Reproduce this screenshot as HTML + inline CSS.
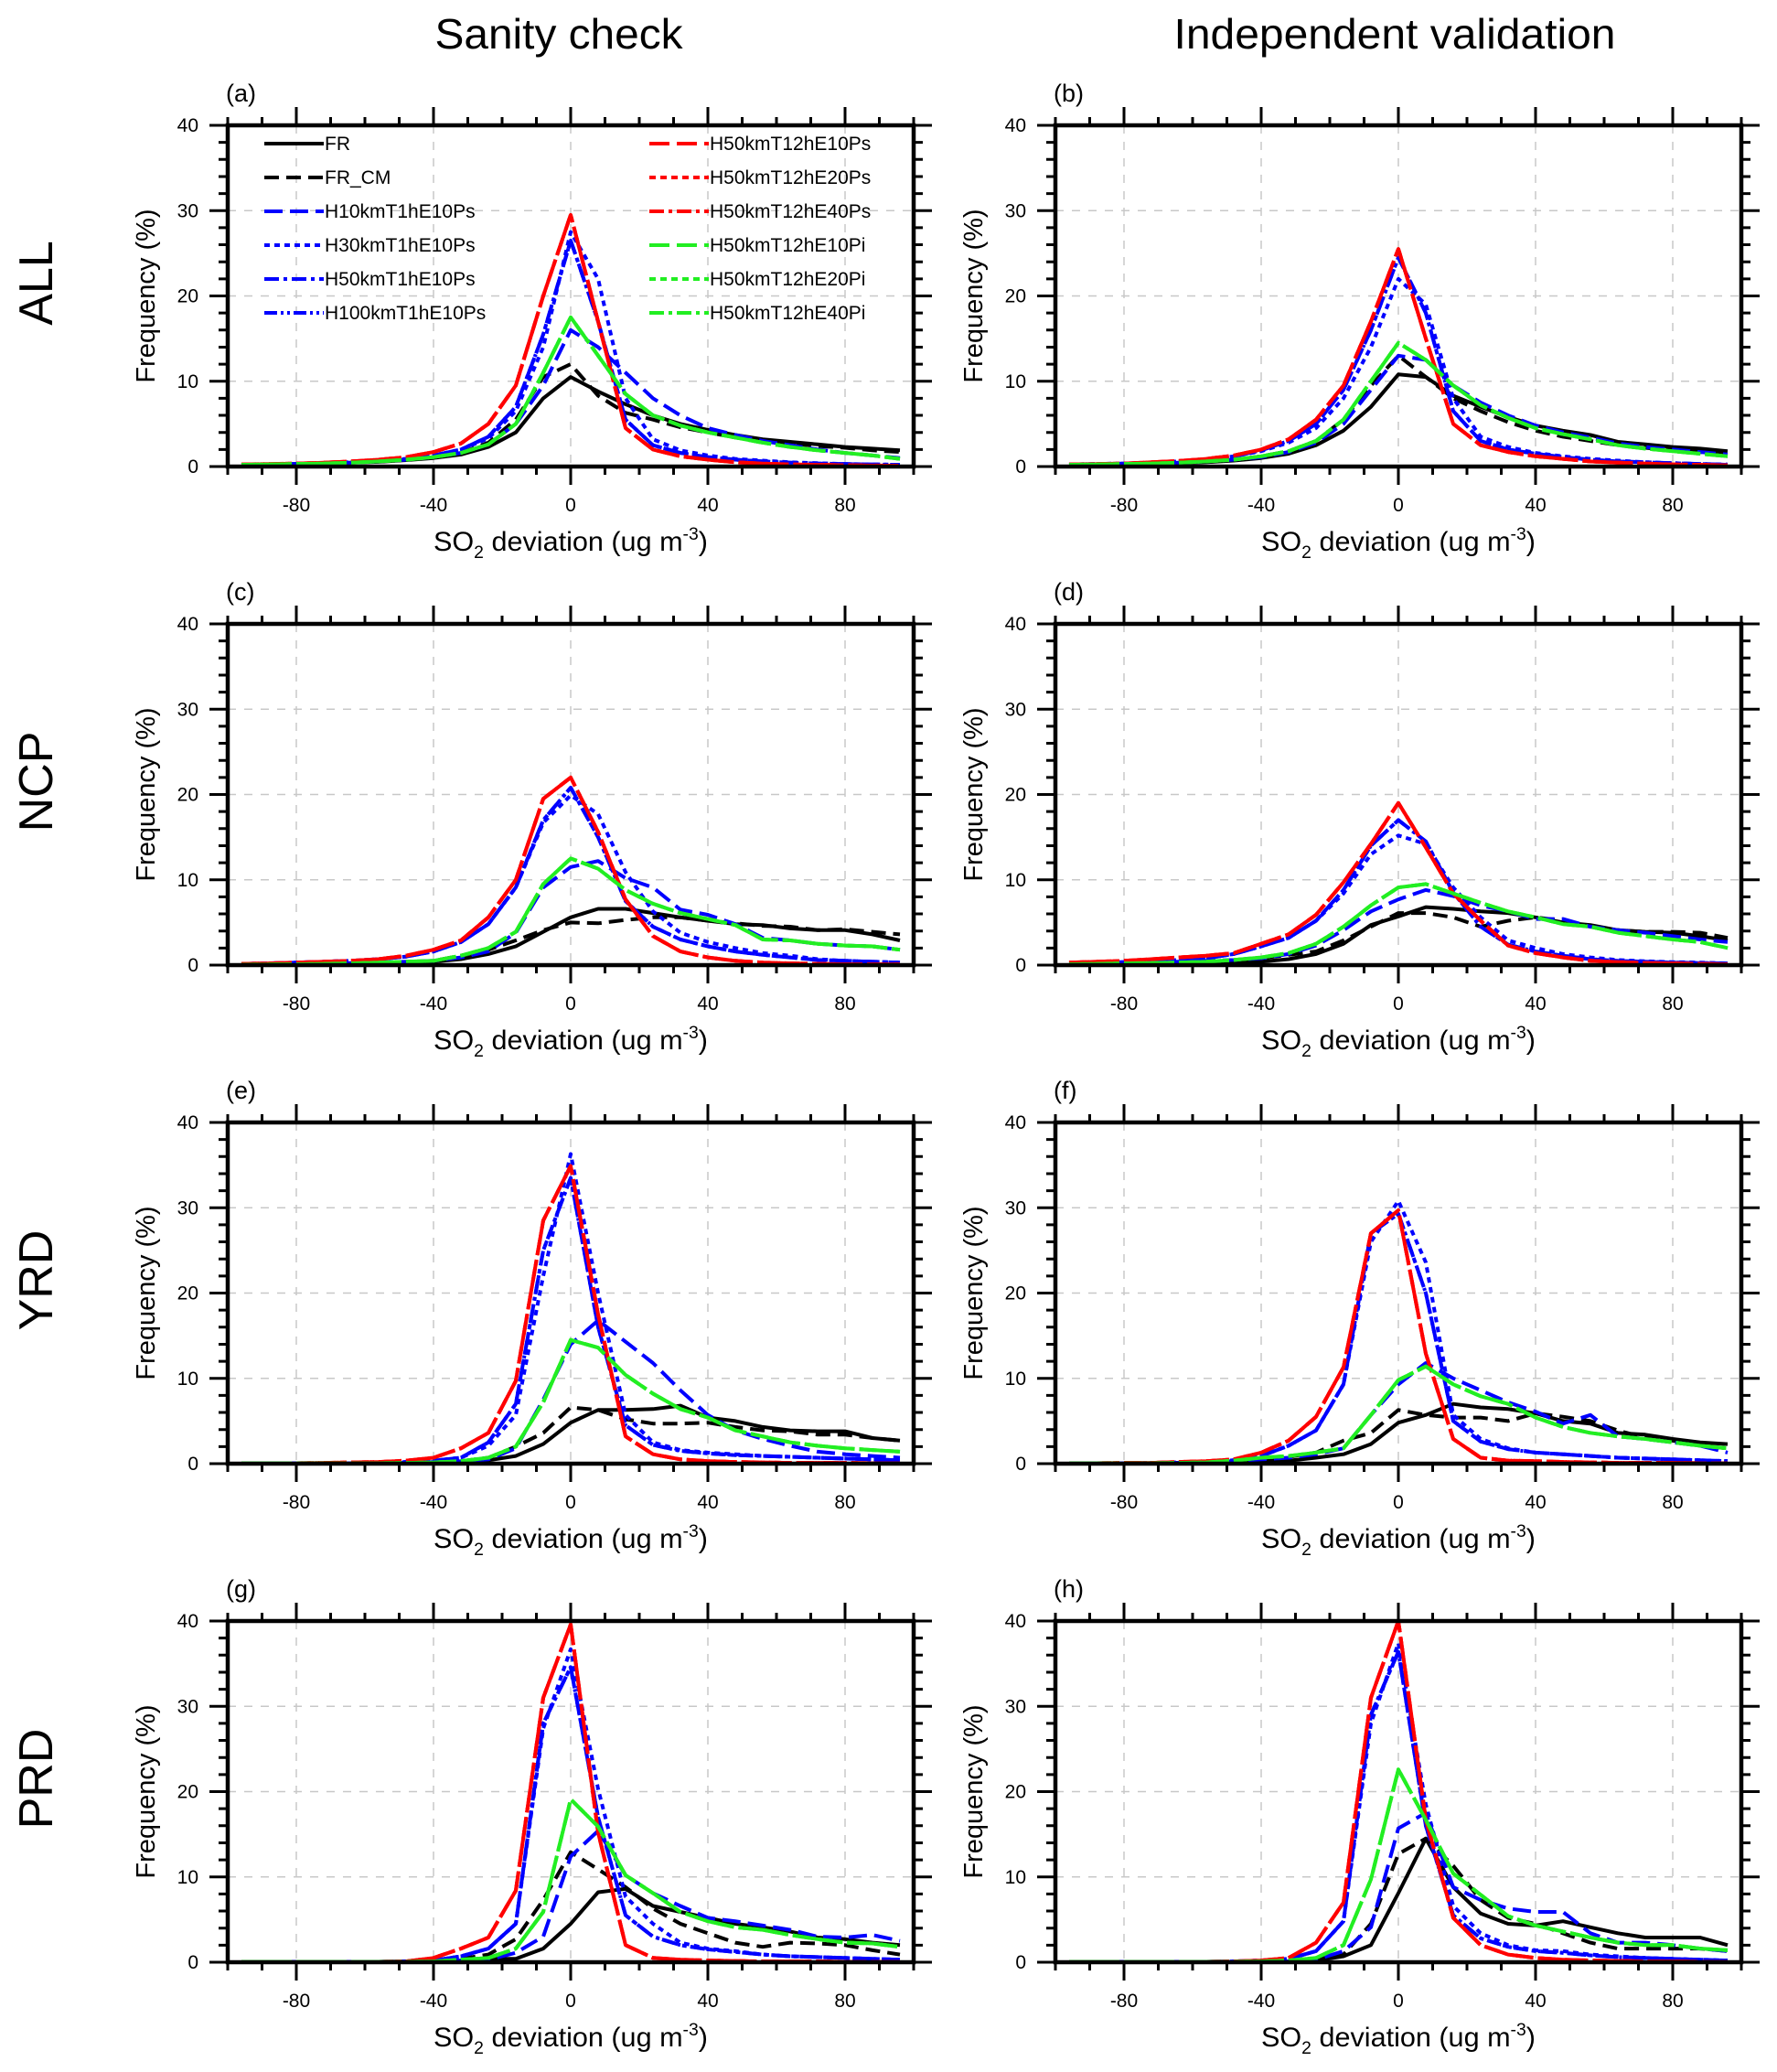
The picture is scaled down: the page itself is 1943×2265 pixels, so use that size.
<!DOCTYPE html>
<html><head><meta charset="utf-8"><style>
html,body{margin:0;padding:0;background:#fff}
svg{display:block}
text{font-family:"Liberation Sans",Arial,sans-serif;fill:#000}
</style></head><body>
<svg id="fig" width="1943" height="2265" viewBox="0 0 1943 2265" xmlns="http://www.w3.org/2000/svg">
<defs id="defs"></defs>
<text x="611" y="53" font-size="46" text-anchor="middle" textLength="271" lengthAdjust="spacingAndGlyphs">Sanity check</text>
<text x="1525" y="53" font-size="46" text-anchor="middle" textLength="483" lengthAdjust="spacingAndGlyphs">Independent validation</text>
</svg>
<script>
const xBins = [-96,-88,-80,-72,-64,-56,-48,-40,-32,-24,-16,-8,0,8,16,24,32,40,48,56,64,72,80,88,96];
const panelLabels = ["(a)","(b)","(c)","(d)","(e)","(f)","(g)","(h)"];
const rowLabels = ["ALL","NCP","YRD","PRD"];
const xTickLabels = [-80,-40,0,40,80];
const yTickLabels = [0,10,20,30,40];
const dataFR = [
[0.2,0.25,0.3,0.35,0.45,0.55,0.75,1.0,1.4,2.3,4.0,8.0,10.5,8.8,7.3,6.0,5.0,4.3,3.7,3.2,2.9,2.6,2.3,2.1,1.9],
[0.15,0.2,0.25,0.3,0.4,0.5,0.7,1.0,1.5,2.5,4.2,7,10.8,10.5,8.3,7,5.8,4.8,4.2,3.7,2.9,2.6,2.3,2.1,1.8],
[0.05,0.05,0.08,0.1,0.12,0.15,0.2,0.4,0.7,1.3,2.2,3.9,5.6,6.6,6.6,6.1,5.6,5.2,4.8,4.7,4.3,4.1,4.1,3.6,2.9],
[0.05,0.08,0.1,0.12,0.15,0.2,0.3,0.4,0.7,1.3,2.5,4.7,5.7,6.8,6.6,6.3,6.1,5.6,5.0,4.7,4.1,3.9,3.8,3.4,2.9],
[0.05,0.05,0.05,0.05,0.05,0.05,0.05,0.1,0.1,0.4,0.9,2.3,4.8,6.3,6.3,6.4,6.8,5.4,5.0,4.3,3.9,3.8,3.8,3.0,2.7],
[0.05,0.05,0.05,0.05,0.1,0.15,0.2,0.3,0.35,0.7,1.1,2.3,4.8,5.7,7.0,6.6,6.4,5.9,5.0,4.7,3.6,3.4,2.9,2.5,2.3],
[0.05,0.05,0.05,0.05,0.05,0.05,0.05,0.1,0.2,0.4,0.4,1.6,4.5,8.2,8.6,6.6,5.9,5.2,4.5,4.1,3.6,2.9,2.7,2.3,2.0],
[0.05,0.05,0.05,0.05,0.05,0.05,0.05,0.1,0.1,0.2,0.7,2.0,8.1,14.5,8.8,5.7,4.5,4.3,4.8,4.1,3.4,2.9,2.9,2.9,2.0]];
const dataFRCM = [
[0.2,0.25,0.3,0.4,0.5,0.6,0.8,1.1,1.6,2.8,5.5,10.5,12.0,8.3,6.3,5.5,4.6,4.0,3.4,3.0,2.7,2.4,2.2,1.9,1.7],
[0.15,0.2,0.25,0.3,0.4,0.55,0.8,1.2,1.8,3,5.5,9.5,13,10.5,8,6.5,5.2,4.2,3.5,3.0,2.5,2.2,1.9,1.7,1.5],
[0.05,0.05,0.08,0.1,0.15,0.2,0.3,0.5,1.1,1.8,2.9,4.1,5.0,4.9,5.3,5.6,5.6,5.2,4.9,4.6,4.5,4.1,4.2,3.9,3.6],
[0.05,0.08,0.1,0.15,0.2,0.3,0.5,0.8,1.2,1.6,2.9,4.5,6.1,6.1,5.6,4.5,5.2,5.6,5.2,4.5,4.1,3.9,3.9,3.8,3.2],
[0.05,0.05,0.05,0.05,0.05,0.05,0.1,0.1,0.3,0.7,2.0,3.6,6.6,6.3,5.2,4.7,4.7,4.8,4.3,3.9,3.8,3.4,3.4,3.0,2.7],
[0.05,0.05,0.05,0.05,0.1,0.15,0.3,0.5,0.8,1.3,2.7,3.6,6.3,5.7,5.4,5.4,5.0,5.9,5.5,5.0,3.9,3.0,2.7,2.1,1.8],
[0.05,0.05,0.05,0.05,0.05,0.05,0.1,0.2,0.4,0.9,2.7,7.3,12.9,10.9,8.8,6.3,4.5,3.4,2.3,1.8,2.3,2.2,2.0,1.4,0.9],
[0.05,0.05,0.05,0.05,0.05,0.05,0.05,0.1,0.1,0.3,0.9,4.5,12.7,14.5,11.3,7.3,5.2,4.5,3.4,2.3,1.6,1.6,1.6,1.6,1.3]];
const dataH10 = [
[0.2,0.25,0.3,0.35,0.45,0.6,0.8,1.1,1.6,2.6,5.0,9.5,16.0,14.0,11.0,8.0,6.0,4.5,3.7,3.0,2.5,2.0,1.6,1.3,1.0],
[0.2,0.25,0.3,0.35,0.45,0.6,0.8,1.1,1.7,2.8,5,9,13,12.5,9.5,7.5,6,4.8,4,3.4,2.7,2.3,2,1.7,1.4],
[0.1,0.12,0.15,0.2,0.25,0.3,0.4,0.5,0.9,1.6,3.8,9.1,11.5,12.2,10.2,9.1,6.5,5.9,4.8,3.2,2.9,2.5,2.3,2.2,1.8],
[0.2,0.25,0.3,0.35,0.4,0.5,0.6,0.8,1.3,2.3,4.1,6.3,7.7,8.8,8.1,7.0,6.3,5.4,5.4,4.5,4.1,3.8,3.4,3.0,2.7],
[0.05,0.05,0.05,0.05,0.05,0.05,0.1,0.2,0.3,0.5,1.8,7.5,14,16.8,14.3,11.8,8.6,5.7,3.9,2.9,2.1,1.4,1.1,0.9,0.7],
[0.05,0.05,0.05,0.05,0.1,0.2,0.3,0.5,0.7,1.1,1.8,5.7,9.3,11.8,10,8.6,7.2,6.1,4.7,5.7,3.2,2.9,2.5,2.1,1.3],
[0.05,0.05,0.05,0.05,0.05,0.05,0.05,0.1,0.2,0.3,1.1,3.0,12.4,15.4,10.2,8.1,6.6,5.2,4.8,4.3,3.8,3.0,2.9,3.2,2.5],
[0.05,0.05,0.05,0.05,0.05,0.05,0.05,0.1,0.1,0.3,1.3,4.1,15.7,17.5,8.8,7.3,6.3,5.9,5.9,3.4,2.3,2.3,2.0,1.6,1.3]];
const dataH30 = [
[0.2,0.25,0.3,0.4,0.5,0.7,0.9,1.3,2.0,3.3,6.5,14,27.5,22,8,3.2,1.9,1.3,0.9,0.7,0.5,0.4,0.3,0.25,0.2],
[0.25,0.3,0.35,0.45,0.6,0.8,1.2,1.8,2.8,4.5,8,14,22,19,8,3.5,2.3,1.6,1.2,0.9,0.7,0.5,0.4,0.3,0.25],
[0.15,0.2,0.3,0.4,0.5,0.7,1.0,1.6,2.7,4.8,9.1,16.7,19.9,17.7,10.9,6.3,3.8,2.7,2.0,1.4,1.1,0.7,0.5,0.4,0.3],
[0.25,0.3,0.35,0.45,0.6,0.8,1.3,2.2,3.2,5.2,8.4,13,15.2,14.2,9.1,5.6,2.9,2.0,1.3,0.9,0.6,0.45,0.35,0.3,0.2],
[0.05,0.05,0.05,0.05,0.05,0.1,0.2,0.35,0.7,2.1,5.7,22,36.3,20,5.7,2.5,1.6,1.3,1.1,0.9,0.8,0.7,0.6,0.5,0.4],
[0.05,0.05,0.05,0.1,0.15,0.2,0.4,0.9,2.1,3.9,9.3,26,30.8,23.6,5.7,2.9,1.8,1.3,1.1,0.9,0.7,0.6,0.5,0.4,0.3],
[0.05,0.05,0.05,0.05,0.05,0.05,0.1,0.2,0.7,1.6,4.5,27.4,36.7,20.3,7.7,4.5,2.3,1.6,1.3,0.9,0.7,0.6,0.5,0.4,0.3],
[0.05,0.05,0.05,0.05,0.05,0.05,0.1,0.2,0.4,1.3,4.8,28,37.4,18.5,6.6,3.4,2.0,1.4,1.3,0.9,0.7,0.5,0.4,0.3,0.2]];
const dataH50 = [
[0.2,0.25,0.3,0.4,0.5,0.7,0.9,1.3,2.0,3.5,7,15.5,26.5,17,5.5,2.5,1.6,1.1,0.8,0.6,0.45,0.35,0.3,0.25,0.2],
[0.25,0.3,0.35,0.45,0.6,0.8,1.2,1.9,3,5,9,16,24.5,18,6.5,3,2,1.5,1.1,0.8,0.6,0.5,0.4,0.3,0.2],
[0.15,0.2,0.3,0.4,0.5,0.7,1.0,1.6,2.7,4.8,9.1,17,20.8,15,7.5,4.5,3.0,2.2,1.6,1.2,0.9,0.6,0.5,0.4,0.3],
[0.25,0.3,0.35,0.45,0.6,0.8,1.3,2.2,3.2,5.2,8.8,14,17,14.5,8.5,4.5,2.4,1.6,1.1,0.7,0.5,0.4,0.3,0.25,0.2],
[0.05,0.05,0.05,0.05,0.05,0.1,0.2,0.35,0.7,2.5,7,25,33.5,16,4.5,2.2,1.5,1.2,1.0,0.9,0.8,0.7,0.6,0.5,0.4],
[0.05,0.05,0.05,0.1,0.15,0.2,0.4,0.9,2.1,3.9,9.3,27,29.3,20,5,2.6,1.7,1.3,1.1,0.9,0.7,0.6,0.5,0.4,0.3],
[0.05,0.05,0.05,0.05,0.05,0.05,0.1,0.2,0.7,1.6,4.5,28,34.6,17,5.5,3,2,1.5,1.2,0.9,0.7,0.6,0.5,0.4,0.3],
[0.05,0.05,0.05,0.05,0.05,0.05,0.1,0.2,0.4,1.3,4.8,29,36.4,16,5.5,2.8,1.8,1.3,1.1,0.8,0.6,0.5,0.4,0.3,0.2]];
const dataRed = [
[0.25,0.3,0.35,0.45,0.6,0.8,1.1,1.7,2.7,5,9.5,20,29.5,17,4.5,2.0,1.2,0.8,0.5,0.35,0.25,0.2,0.15,0.12,0.1],
[0.25,0.3,0.35,0.5,0.65,0.9,1.3,2.0,3.2,5.5,9.5,17,25.5,15,5,2.5,1.7,1.2,0.9,0.6,0.45,0.35,0.25,0.2,0.15],
[0.15,0.2,0.3,0.4,0.5,0.7,1.1,1.8,2.9,5.6,10,19.5,22,15.6,7.7,3.4,1.6,0.9,0.5,0.3,0.2,0.15,0.1,0.1,0.1],
[0.3,0.4,0.5,0.7,0.9,1.1,1.4,2.5,3.6,5.9,9.7,14.2,19,13.8,8.4,5.2,2.3,1.4,0.9,0.5,0.35,0.25,0.2,0.15,0.1],
[0.05,0.05,0.05,0.1,0.15,0.2,0.35,0.7,1.8,3.6,9.7,28.5,34.9,17.5,3.2,1.1,0.5,0.3,0.2,0.15,0.1,0.1,0.1,0.05,0.05],
[0.05,0.05,0.1,0.1,0.2,0.3,0.5,1.3,2.7,5.5,11.3,27,29.7,12.9,2.9,0.7,0.35,0.3,0.2,0.15,0.1,0.1,0.1,0.05,0.05],
[0.05,0.05,0.05,0.05,0.05,0.05,0.1,0.5,1.6,2.9,8.4,31,39.6,15.2,2.0,0.5,0.3,0.2,0.15,0.1,0.1,0.1,0.05,0.05,0.05],
[0.05,0.05,0.05,0.05,0.05,0.05,0.1,0.2,0.5,2.3,7.0,31,40,16.7,5.2,2.0,0.9,0.5,0.3,0.2,0.15,0.1,0.1,0.05,0.05]];
const dataGreen = [
[0.2,0.25,0.3,0.35,0.45,0.6,0.8,1.1,1.6,2.6,5,11,17.5,13,8.5,6,4.8,4,3.4,2.8,2.3,1.9,1.6,1.3,0.9],
[0.2,0.25,0.3,0.35,0.45,0.6,0.8,1.2,1.8,3,5.5,10,14.5,12.5,9.5,7.2,5.7,4.5,3.8,3.2,2.5,2.1,1.8,1.5,1.2],
[0.05,0.08,0.1,0.15,0.2,0.3,0.4,0.5,1.1,2.0,3.9,9.5,12.5,11.3,8.8,7.2,6.1,5.4,4.7,3.0,2.9,2.5,2.3,2.2,1.8],
[0.1,0.15,0.2,0.25,0.3,0.4,0.6,0.9,1.4,2.5,4.5,7.0,9.1,9.5,8.4,7.3,6.3,5.6,4.8,4.5,3.8,3.4,3.0,2.7,2.0],
[0.05,0.05,0.05,0.05,0.05,0.05,0.1,0.15,0.3,0.7,2.0,7.2,14.5,13.6,10.4,8.2,6.4,5.4,3.9,3.2,2.5,2.1,1.8,1.6,1.4],
[0.05,0.05,0.05,0.05,0.1,0.15,0.35,0.7,0.9,1.3,1.8,5.7,9.8,11.4,9.3,7.9,7.0,5.4,4.3,3.6,3.2,2.9,2.5,2.1,1.8],
[0.05,0.05,0.05,0.05,0.05,0.05,0.05,0.1,0.3,0.5,1.6,5.9,19.1,15.9,10.2,8.1,5.9,4.8,4.1,3.8,3.2,2.7,2.3,2.2,1.8],
[0.05,0.05,0.05,0.05,0.05,0.05,0.05,0.1,0.2,0.5,2.0,9.7,22.6,16.7,10.4,7.9,5.4,4.3,3.6,2.9,2.3,2.0,2.0,1.6,1.4]];
const seriesNames = ["FR","FR_CM","H10kmT1hE10Ps","H30kmT1hE10Ps","H50kmT1hE10Ps","H100kmT1hE10Ps","H50kmT12hE10Ps","H50kmT12hE20Ps","H50kmT12hE40Ps","H50kmT12hE10Pi","H50kmT12hE20Pi","H50kmT12hE40Pi"];
const seriesData = [dataFR,dataFRCM,dataH10,dataH30,dataH50,dataH50,dataRed,dataRed,dataRed,dataGreen,dataGreen,dataGreen];
const seriesColor = ["#000","#000","#0000ff","#0000ff","#0000ff","#0000ff","#ff0000","#ff0000","#ff0000","#22ee22","#22ee22","#22ee22"];
const seriesDash = ["","16,8","20,8","6,5","16,5,4,5","14,4,3,4,3,4","22,8","7,5","16,5,4,5","22,8","7,5","16,5,4,5"];

const NS="http://www.w3.org/2000/svg";
const svg=document.getElementById('fig');
const defs=document.getElementById('defs');
function mk(tag,attrs,parent){const e=document.createElementNS(NS,tag);for(const k in attrs)e.setAttribute(k,attrs[k]);(parent||svg).appendChild(e);return e;}
const colL=[249,1154], W=750, H=373;
function rowTop(r){return 137+545*r;}

for(let p=0;p<8;p++){
  const col=p%2,row=Math.floor(p/2);
  const L=colL[col],T=rowTop(row),B=T+H,R=L+W;
  const xs=v=>L+(v+100)/200*W;
  const ys=v=>B-v/40*H;
  const g=mk('g',{});
  
  
  const cp=mk('clipPath',{id:'clip'+p},defs);
  mk('rect',{x:L,y:T,width:W,height:H},cp);
  for(const v of xTickLabels){const gl=mk('line',{x1:xs(v),x2:xs(v),y1:T,y2:B,stroke:'#c8c8c8','stroke-width':1.5,'stroke-dasharray':'9,9'},g);
    
    }
  for(const v of [10,20,30]){const gl=mk('line',{x1:L,x2:R,y1:ys(v),y2:ys(v),stroke:'#c8c8c8','stroke-width':1.5,'stroke-dasharray':'9,9'},g);
    
    }
  for(let s=0;s<seriesNames.length;s++){
    const d=seriesData[s][p];
    const pts=xBins.map((x,i)=>xs(x).toFixed(1)+','+ys(d[i]).toFixed(1)).join(' ');
    const pl=mk('polyline',{points:pts,fill:'none',stroke:seriesColor[s],'stroke-width':4,'stroke-linejoin':'round','clip-path':'url(#clip'+p+')'},g);
    if(seriesDash[s])pl.setAttribute('stroke-dasharray',seriesDash[s]);
    
    
  }
  let tk='';
  for(let v=-100;v<=100;v+=10){const major=(v%40===0&&v!==-100&&v!==100)||v===0;const len=major?20:9;const x=xs(v);
    tk+=`M${x},${T}V${T-len}M${x},${B}V${B+len}`;}
  for(let v=0;v<=40;v+=2){const major=v%10===0;const len=major?20:10;const y=ys(v);
    tk+=`M${L},${y}H${L-len}M${R},${y}H${R+len}`;}
  const tp=mk('path',{d:tk,stroke:'#000','stroke-width':3,fill:'none'},g);
  
  
  const fr=mk('rect',{x:L,y:T,width:W,height:H,fill:'none',stroke:'#000','stroke-width':4.5},g);
  
  
  for(const v of xTickLabels){const t=mk('text',{x:xs(v),y:B+49,'font-size':21,'text-anchor':'middle'},g);t.textContent=v;
    
    }
  for(const v of yTickLabels){const t=mk('text',{x:L-32,y:ys(v)+7,'font-size':21,'text-anchor':'end'},g);t.textContent=v;
    
    }
  const xt=mk('text',{x:L+W/2,y:B+92,'font-size':30,'text-anchor':'middle',textLength:300,lengthAdjust:'spacingAndGlyphs'},g);
  xt.innerHTML='SO<tspan font-size="19" dy="8">2</tspan><tspan dy="-8"> deviation (ug m</tspan><tspan font-size="19" dy="-12">-3</tspan><tspan dy="12">)</tspan>';
  
  
  const yt=mk('text',{x:0,y:0,'font-size':29,'text-anchor':'middle',transform:`translate(${L-80},${T+H/2}) rotate(-90)`},g);
  yt.textContent='Frequency (%)';
  
  
  const pl=mk('text',{x:L-2,y:T-26,'font-size':27},g);
  pl.textContent=panelLabels[p];
  
  
}
for(let r=0;r<4;r++){
  const t=mk('text',{x:0,y:0,'font-size':52,'text-anchor':'middle',transform:`translate(57,${rowTop(r)+H/2-14}) rotate(-90)`});
  t.textContent=rowLabels[r];
  
  
}
const lg=mk('g',{});


for(let s=0;s<seriesNames.length;s++){
  const c=s<6?0:1, i=s%6;
  const x0=c?710:289, y=157+37*i;
  const ln=mk('line',{x1:x0,x2:x0+65,y1:y,y2:y,stroke:seriesColor[s],'stroke-width':4},lg);
  if(seriesDash[s])ln.setAttribute('stroke-dasharray',seriesDash[s]);
  
  
  const t=mk('text',{x:x0+66,y:y+7,'font-size':21},lg);
  t.textContent=seriesNames[s];
  
  
}
</script>
</body></html>
